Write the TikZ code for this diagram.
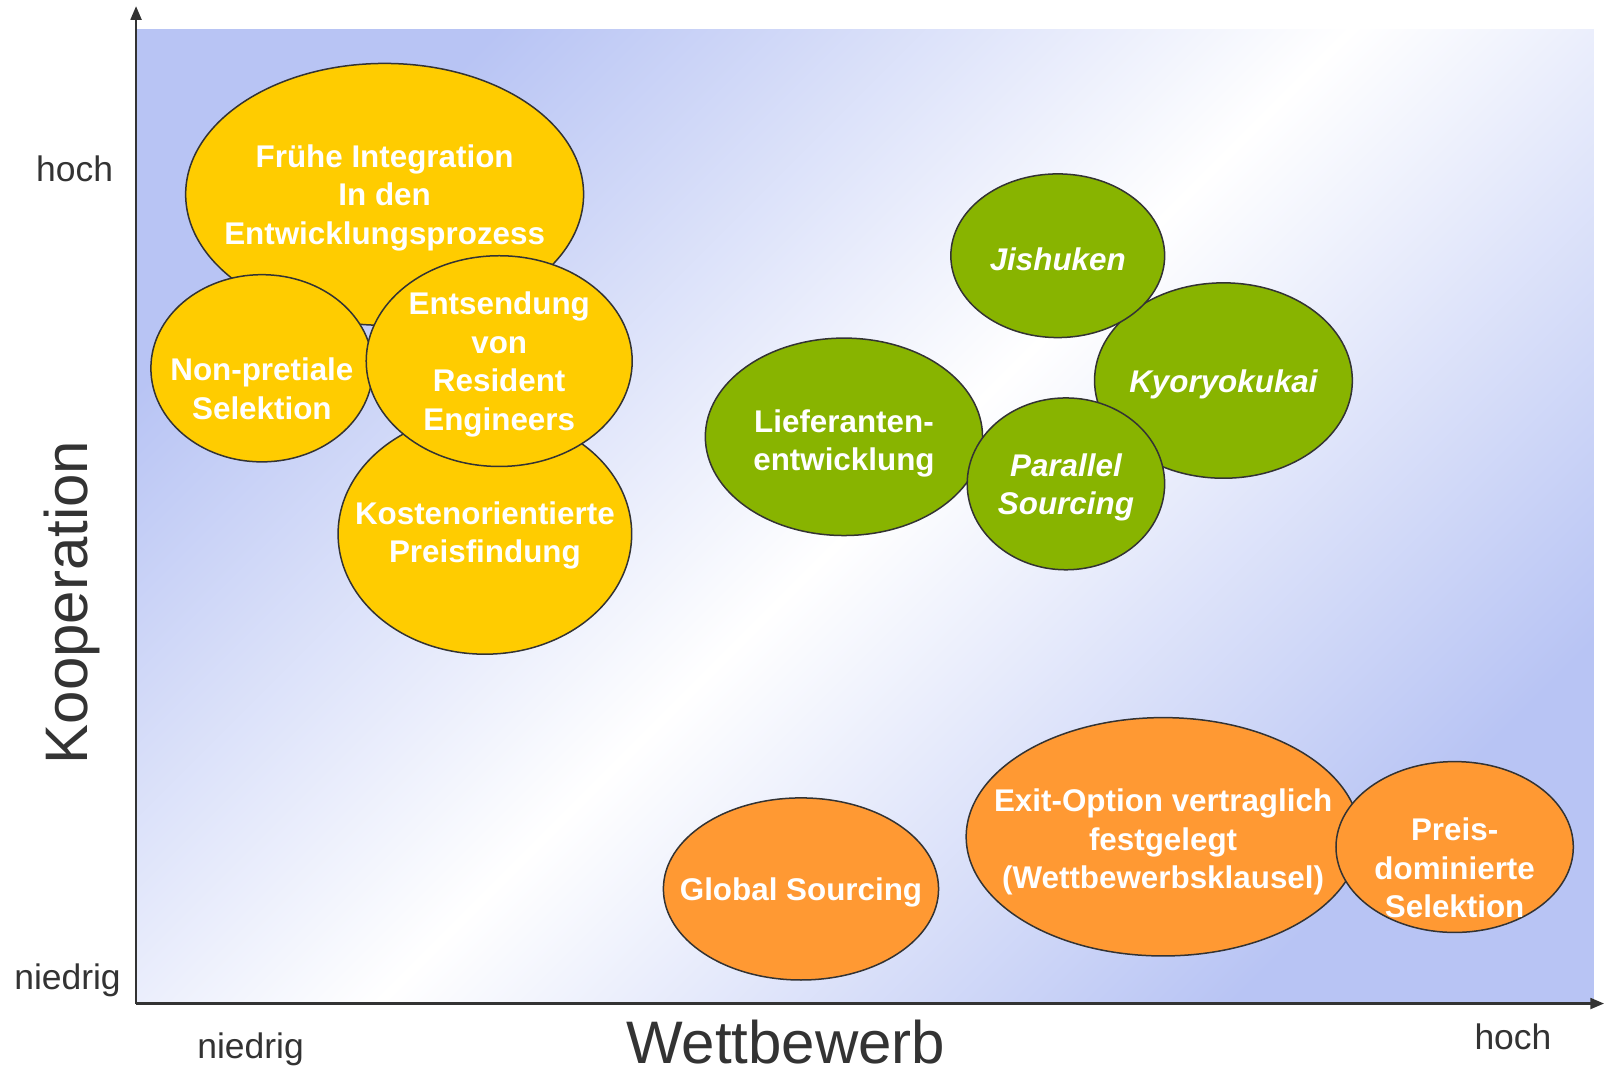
\documentclass[tikz,border=0pt]{standalone}
\usepackage{fontspec}
\setmainfont{Liberation Sans}
\usetikzlibrary{shapes.geometric,arrows.meta}

\definecolor{bgblue}{RGB}{184,196,244}
\definecolor{axisgray}{RGB}{51,51,51}
\definecolor{bubbleyellow}{RGB}{255,204,0}
\definecolor{bubblegreen}{RGB}{136,180,0}
\definecolor{bubbleorange}{RGB}{255,153,51}

\begin{document}
\begin{tikzpicture}[x=0.75pt,y=-0.75pt,
	axis/.style={draw=axisgray,line width=1.6pt,-{Triangle[length=10pt,width=8pt]}},
	axislabel/.style={text=axisgray,font=\fontsize{26}{30}\selectfont,anchor=base},
	axistitle/.style={text=axisgray,font=\fontsize{44}{50}\selectfont},
	bubble/.style={ellipse,draw=axisgray,line width=1.1pt,inner sep=0pt},
	bsize/.style 2 args={minimum width=#1*0.75pt,minimum height=#2*0.75pt},
	yellowbubble/.style={bubble,fill=bubbleyellow},
	greenbubble/.style={bubble,fill=bubblegreen},
	orangebubble/.style={bubble,fill=bubbleorange},
	btext/.style={text=white,font=\bfseries\fontsize{23}{28.3}\selectfont,align=center,yshift=-2.5pt}]
	\useasboundingbox (0,0) rectangle (1568,1049);

	% shaded field
	\shade[top color=bgblue,bottom color=bgblue,middle color=white,shading angle=45] (133,29) rectangle (1558,981);

	% axes
	\coordinate (origin) at (133,981);
	\coordinate (ytip) at (133,6);
	\coordinate (xtip) at (1568,981);
	\draw[axis] (origin) -- (ytip);
	\draw[axis] (origin) -- (xtip);

	\node[axislabel] (yhigh) at (73,177) {hoch};
	\node[axislabel] (ylow) at (66,967) {niedrig};
	\node[axislabel] (xlow) at (245,1035) {niedrig};
	\node[axislabel] (xhigh) at (1479,1026) {hoch};
	\node[axistitle,rotate=90] (ytitle) at (70,589) {Kooperation};
	\node[axistitle,anchor=base] (xtitle) at (768,1040) {Wettbewerb};

	% yellow group
	\node[yellowbubble,bsize={389}{256}] (fruehe) at (376,190) {};
	\node[btext] (fruehe-t) at (fruehe) {Frühe Integration\\In den\\Entwicklungsprozess};
	\node[yellowbubble,bsize={287}{235}] (kosten) at (474,522) {};
	\node[btext] (kosten-t) at (474,520) {Kostenorientierte\\Preisfindung};
	\node[yellowbubble,bsize={217}{183}] (nonpret) at (256,360) {};
	\node[btext] (nonpret-t) at (256,377) {Non-pretiale\\Selektion};
	\node[yellowbubble,bsize={260}{206}] (entsendung) at (488,353) {};
	\node[btext] (entsendung-t) at (entsendung) {Entsendung\\von\\Resident\\Engineers};

	% green group
	\node[greenbubble,bsize={252}{191}] (kyoryo) at (1196,372) {};
	\node[btext] (kyoryo-t) at (kyoryo) {\itshape Kyoryokukai};
	\node[greenbubble,bsize={209}{160}] (jishuken) at (1034,250) {};
	\node[btext] (jishuken-t) at (jishuken) {\itshape Jishuken};
	\node[greenbubble,bsize={271}{193}] (liefer) at (825,427) {};
	\node[btext] (liefer-t) at (825,430) {Lieferanten-\\entwicklung};
	\node[greenbubble,bsize={193}{168}] (parallel) at (1042,473) {};
	\node[btext,font=\bfseries\itshape\fontsize{23}{28.3}\selectfont] (parallel-t) at (parallel) {Parallel\\Sourcing};

	% orange group
	\node[orangebubble,bsize={269}{178}] (global) at (783,869) {};
	\node[btext] (global-t) at (global) {Global Sourcing};
	\node[orangebubble,bsize={385}{233}] (exitopt) at (1137,818) {};
	\node[btext] (exitopt-t) at (1137,820) {Exit-Option vertraglich\\festgelegt\\(Wettbewerbsklausel)};
	\node[orangebubble,bsize={232}{167}] (preis) at (1422,828) {};
	\node[btext] (preis-t) at (1422,845) {Preis-\\dominierte\\Selektion};
\end{tikzpicture}
\end{document}
